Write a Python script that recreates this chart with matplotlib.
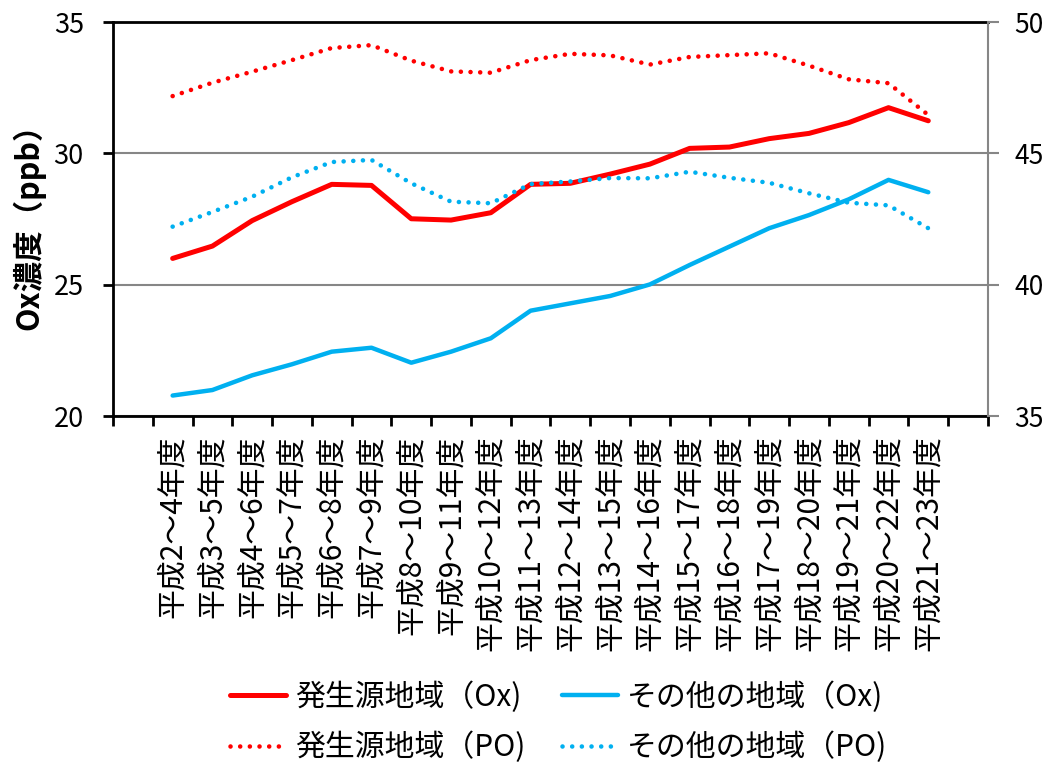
import matplotlib
matplotlib.use('Agg')
import matplotlib.pyplot as plt
import numpy as np

plt.rcParams['font.family'] = ['Noto Sans CJK JP', 'DejaVu Sans']

periods = ['平成2～4年度', '平成3～5年度', '平成4～6年度', '平成5～7年度', '平成6～8年度',
           '平成7～9年度', '平成8～10年度', '平成9～11年度', '平成10～12年度', '平成11～13年度',
           '平成12～14年度', '平成13～15年度', '平成14～16年度', '平成15～17年度', '平成16～18年度',
           '平成17～19年度', '平成18～20年度', '平成19～21年度', '平成20～22年度', '平成21～23年度']

src_ox = [26.0, 26.47, 27.44, 28.16, 28.82, 28.78, 27.51, 27.46, 27.74, 28.82,
          28.86, 29.21, 29.59, 30.19, 30.24, 30.56, 30.76, 31.17, 31.74, 31.24]
oth_ox = [20.78, 20.99, 21.55, 21.97, 22.45, 22.6, 22.03, 22.45, 22.96, 24.01,
          24.29, 24.57, 25.01, 25.75, 26.45, 27.15, 27.65, 28.25, 28.99, 28.52]
src_po = [47.18, 47.69, 48.11, 48.55, 49.01, 49.12, 48.53, 48.12, 48.07, 48.55,
          48.79, 48.73, 48.38, 48.67, 48.74, 48.81, 48.34, 47.82, 47.67, 46.46]
oth_po = [42.21, 42.77, 43.35, 44.09, 44.67, 44.75, 43.86, 43.16, 43.10, 43.83,
          43.93, 44.06, 44.05, 44.30, 44.07, 43.88, 43.48, 43.12, 43.02, 42.15]

red = '#FF0000'
blue = '#00B0F0'
gray = '#868686'

x = np.arange(1, len(periods) + 1)

fig = plt.figure(figsize=(10.5, 7.7), dpi=100)
ax = fig.add_axes([0.1076, 0.4597, 0.8333, 0.5117])
ax2 = ax.twinx()

l1, = ax.plot(x, src_ox, color=red, lw=3.6, label='発生源地域（Ox)', solid_capstyle='round')
l2, = ax.plot(x, oth_ox, color=blue, lw=3.2, label='その他の地域（Ox)', solid_capstyle='round')
dot = (0, (0.01, 2.1))
l3, = ax2.plot(x, src_po, color=red, lw=3.3, ls=dot, dash_capstyle='round', label='発生源地域（PO)')
l4, = ax2.plot(x, oth_po, color=blue, lw=3.3, ls=dot, dash_capstyle='round', label='その他の地域（PO)')

ax.set_xlim(-0.5, len(periods) + 1.5)
ax.set_ylim(20, 35)
ax.set_yticks([20, 25, 30, 35])
ax2.set_ylim(35, 50)
ax2.set_yticks([35, 40, 45, 50])

ax.grid(axis='y', color=gray, lw=1.5)
ax.set_axisbelow(True)

ax.set_xticks(x)
ax.set_xticklabels(periods, rotation=90, fontsize=21.5)
ax.set_xticks(np.arange(-0.5, len(periods) + 2, 1), minor=True)
ax.tick_params(axis='x', which='major', length=0, pad=14)
ax.tick_params(axis='x', which='minor', length=7, width=2, color='black', direction='out')
ax.tick_params(axis='y', labelsize=19.5, length=7, width=2, direction='out', pad=14)
ax2.tick_params(axis='y', labelsize=19, length=8, width=1.5, color=gray, direction='out', pad=11)

for s in ['left', 'bottom', 'top']:
    ax.spines[s].set_linewidth(2)
    ax.spines[s].set_color('black')
ax2.spines['left'].set_visible(False)
ax2.spines['bottom'].set_visible(False)
ax2.spines['top'].set_visible(False)
ax2.spines['right'].set_color(gray)
ax2.spines['right'].set_linewidth(1.5)
ax.spines['right'].set_visible(False)

ax.set_ylabel('Ox濃度（ppb）', fontsize=22, fontweight='bold', labelpad=6)

fig.legend(handles=[l1, l3, l2, l4], ncol=2, loc='center', bbox_to_anchor=(0.532, 0.062),
           frameon=False, fontsize=21.5, handlelength=1.9, handletextpad=0.3,
           columnspacing=1.2, labelspacing=0.65)

fig.savefig('out.png', dpi=100)
